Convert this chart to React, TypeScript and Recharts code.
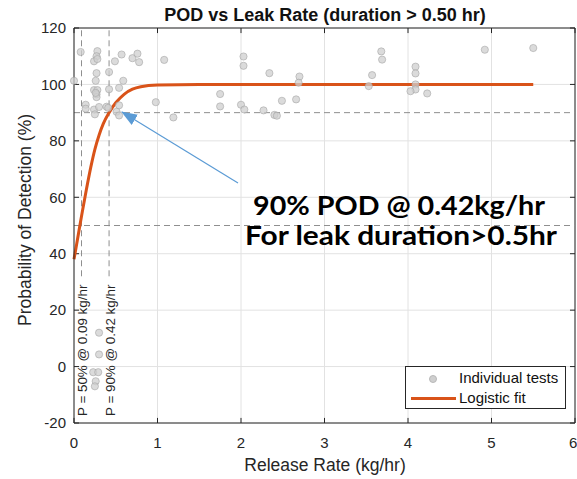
import React from 'react';
import { ComposedChart, Scatter, Line, XAxis, YAxis, CartesianGrid, ReferenceLine } from 'recharts';

// individual test results (release rate kg/hr, POD %)
const testRate = [
  0.08, 0.28, 0.27, 0.24, 0.28, 0.57, 0.49, 0.7, 0.76, 0.78, 1.08, 0.27, 0.42, 0.0, 0.26, 0.59,
  0.54, 0.42, 0.24, 0.28, 0.27, 0.27, 0.14, 0.14, 0.24, 0.25, 0.3, 0.39, 0.54, 0.51, 0.54, 0.98,
  1.19, 1.75, 1.75, 2.03, 2.03, 2.0, 2.04, 2.34, 2.7, 2.69, 2.27, 2.4, 2.43, 2.49, 2.66, 3.68,
  3.69, 3.57, 3.53, 4.09, 4.09, 4.09, 4.09, 4.03, 4.23, 4.92, 5.5, 0.3, 0.3, 0.23, 0.29, 0.26,
  0.25, 0.26, 0.41,
];
const testPod = [
  111.5, 111.8, 110, 108.2, 109, 110.6, 108.2, 109.3, 110.9, 107.9, 108.7, 104, 104.4, 101.3, 101.3, 101.3,
  98.8, 98.3, 98, 98, 96.5, 95.5, 92.8, 91.4, 91.1, 89.4, 92, 92.1, 92.6, 90.3, 89, 93.7,
  88.3, 96.6, 92.2, 109.9, 106.6, 92.8, 91.1, 104, 102.8, 100.6, 90.8, 89.2, 88.9, 94.2, 94.7, 111.7,
  108.8, 103.3, 99.4, 106.3, 103.9, 100, 98.2, 97.6, 96.8, 112.3, 112.9, 12, 4.3, -2, -2, -5.2,
  -7, 97, 91.7,
];

// logistic fit
const fitRate = [0, 0.05, 0.1, 0.15, 0.2, 0.25, 0.3, 0.35, 0.42, 0.5, 0.6, 0.7, 0.8, 1.0, 1.5, 2, 3, 4, 5, 5.5];
const fitPod = [38, 46.5, 55, 63, 70.5, 77, 82, 86, 90, 93.5, 96.5, 98.3, 99.2, 99.8, 100, 100, 100, 100, 100, 100];

const xTicks = [0, 1, 2, 3, 4, 5, 6];
const yTicks = [-20, 0, 20, 40, 60, 80, 100, 120];
const podRates = [0.09, 0.42];
const podLevels = [50, 90];
const podLabels = ['P = 50% @ 0.09 kg/hr', 'P = 90% @ 0.42 kg/hr'];

const tests = testRate.map((x, i) => ({ x, y: testPod[i] }));
const fit = fitRate.map((x, i) => ({ x, y: fitPod[i] }));

const font = '"Liberation Sans", Arial, sans-serif';
const axisColor = '#262626';
const orange = '#D95319';

const Dot = (p: any) => (
  <circle cx={p.cx} cy={p.cy} r={3.6} fill="#cfcfcf" fillOpacity={0.75} stroke="#a0a0a0" strokeOpacity={0.55} />
);

export default function App() {
  return (
    <div style={{ position: 'absolute', left: 0, top: 0, width: 577, height: 479, background: '#fff' }}>
      <ComposedChart width={577} height={479} margin={{ top: 28, right: 2, bottom: 22, left: 0 }}>
        <CartesianGrid stroke="#e2e2e2" />
        <XAxis
          dataKey="x"
          type="number"
          domain={[0, 6]}
          ticks={xTicks}
          height={34}
          tickLine={false}
          tickSize={0}
          tickMargin={14}
          stroke={axisColor}
          tick={{ fill: axisColor, fontSize: 15, fontFamily: font }}
        />
        <YAxis
          dataKey="y"
          type="number"
          domain={[-20, 120]}
          ticks={yTicks}
          width={74}
          tickLine={false}
          tickSize={0}
          tickMargin={8}
          stroke={axisColor}
          tick={{ fill: axisColor, fontSize: 15, fontFamily: font }}
        />
        {/* box and inward ticks */}
        <ReferenceLine y={120} stroke={axisColor} />
        <ReferenceLine x={6} stroke={axisColor} />
        {xTicks.map((t) => (
          <ReferenceLine key={'b' + t} segment={[{ x: t, y: -20 }, { x: t, y: -18.2 }]} stroke={axisColor} />
        ))}
        {xTicks.map((t) => (
          <ReferenceLine key={'t' + t} segment={[{ x: t, y: 120 }, { x: t, y: 118.2 }]} stroke={axisColor} />
        ))}
        {yTicks.map((t) => (
          <ReferenceLine key={'l' + t} segment={[{ x: 0, y: t }, { x: 0.06, y: t }]} stroke={axisColor} />
        ))}
        {yTicks.map((t) => (
          <ReferenceLine key={'r' + t} segment={[{ x: 6, y: t }, { x: 5.94, y: t }]} stroke={axisColor} />
        ))}
        {podLevels.map((v) => (
          <ReferenceLine key={'h' + v} y={v} stroke="#8f8f8f" strokeDasharray="6 4" />
        ))}
        {podRates.map((r) => (
          <ReferenceLine key={'v' + r} segment={[{ x: r, y: 32 }, { x: r, y: 120 }]} stroke="#8f8f8f" strokeDasharray="6 4" />
        ))}
        <Scatter data={tests} dataKey="y" shape={Dot} isAnimationActive={false} />
        <Line data={fit} dataKey="y" type="monotone" stroke={orange} strokeWidth={3} dot={false} isAnimationActive={false} />
      </ComposedChart>

      <svg width={577} height={479} style={{ position: 'absolute', left: 0, top: 0, pointerEvents: 'none' }}>
        <defs>
          <marker id="head" markerWidth="16" markerHeight="12" refX="15" refY="6" orient="auto" markerUnits="userSpaceOnUse">
            <path d="M0,0 L16,6 L0,12 Z" fill="#5B9BD5" />
          </marker>
        </defs>
        <text x={325} y={21} textAnchor="middle" fontFamily={font} fontSize={18} fontWeight="bold" fill="#111">
          POD vs Leak Rate (duration &gt; 0.50 hr)
        </text>
        <text
          x={31}
          y={220}
          transform="rotate(-90 31 220)"
          textAnchor="middle"
          fontFamily={font}
          fontSize={17.5}
          fill={axisColor}
        >
          Probability of Detection (%)
        </text>
        <text x={325} y={471} textAnchor="middle" fontFamily={font} fontSize={17.5} fill={axisColor}>
          Release Rate (kg/hr)
        </text>
        {podLabels.map((s, i) => {
          const bx = i === 0 ? 86.5 : 114.5;
          return (
            <text key={s} x={bx} y={416} transform={`rotate(-90 ${bx} 416)`} fontFamily={font} fontSize={13.4} fill={axisColor}>
              {s}
            </text>
          );
        })}
        <line x1={238} y1={183} x2={122} y2={112} stroke="#5B9BD5" strokeWidth={1.2} markerEnd="url(#head)" />
        <text x={253} y={215} fontFamily="Lato, 'Open Sans', sans-serif" fontSize={27} fontWeight="bold" fill="#000" textLength={292} lengthAdjust="spacingAndGlyphs">
          90% POD @ 0.42kg/hr
        </text>
        <text x={245} y={245} fontFamily="Lato, 'Open Sans', sans-serif" fontSize={27} fontWeight="bold" fill="#000" textLength={312} lengthAdjust="spacingAndGlyphs">
          For leak duration&gt;0.5hr
        </text>
      </svg>

      <div
        style={{
          position: 'absolute',
          left: 405,
          top: 366,
          width: 159,
          height: 41,
          border: `1px solid ${axisColor}`,
          background: '#fff',
          fontFamily: font,
          fontSize: 15,
          color: '#111',
        }}
      >
        <div style={{ position: 'absolute', left: 23, top: 8, width: 8, height: 8, borderRadius: 4, background: '#cfcfcf', border: '1px solid #b8b8b8', boxSizing: 'border-box' }} />
        <div style={{ position: 'absolute', left: 5, top: 30, width: 45, height: 3, background: orange }} />
        <div style={{ position: 'absolute', left: 53, top: 3, lineHeight: '16px' }}>Individual tests</div>
        <div style={{ position: 'absolute', left: 53, top: 23, lineHeight: '16px' }}>Logistic fit</div>
      </div>
    </div>
  );
}
